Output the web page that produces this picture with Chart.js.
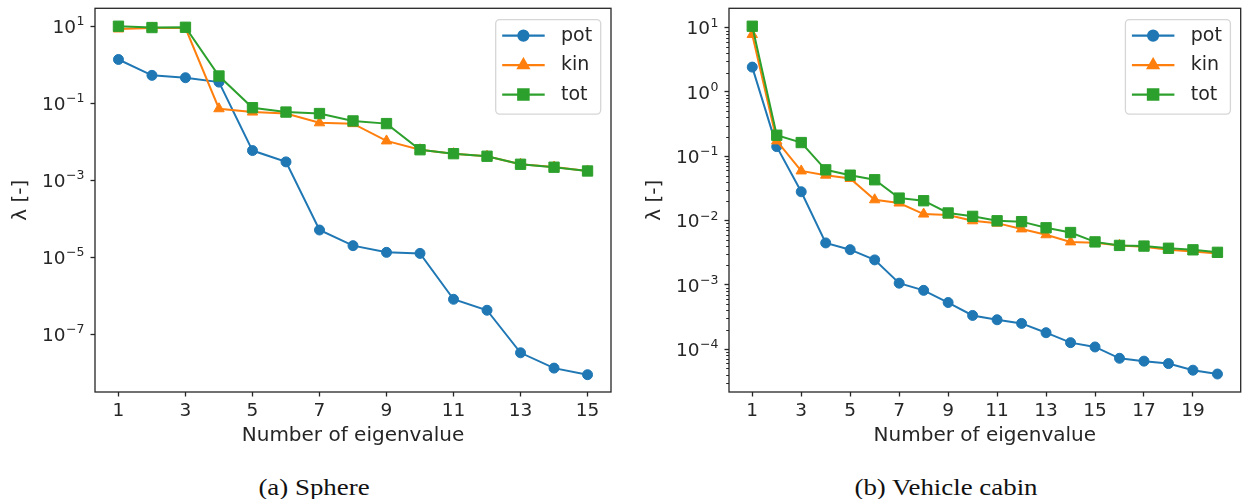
<!DOCTYPE html>
<html>
<head>
<meta charset="utf-8">
<script src="https://cdn.jsdelivr.net/npm/chart.js@4.4.1/dist/chart.umd.min.js"></script>
<style>
html,body{margin:0;padding:0;background:#fff;width:1249px;height:499px;overflow:hidden;}
canvas{position:absolute;top:0;}
#cA{left:0;}
#cB{left:634px;}
.cap{position:absolute;top:473px;font-family:"Liberation Serif",serif;font-size:24px;line-height:28px;color:#111;white-space:nowrap;transform:translateX(-50%) scaleX(1.12);}
</style>
</head>
<body>
<canvas id="cA" width="634" height="460"></canvas>
<canvas id="cB" width="615" height="460"></canvas>
<div class="cap" style="left:314px">(a) Sphere</div>
<div class="cap" style="left:946px">(b) Vehicle cabin</div>
<script>
// ---------- data ----------
const seriesNames = ['pot', 'kin', 'tot'];

const sphereEig = [1, 2, 3, 4, 5, 6, 7, 8, 9, 10, 11, 12, 13, 14, 15];
const spherePot = [1.37, 0.53, 0.46, 0.354, 0.0059, 0.0030, 5.1e-5, 2.0e-5, 1.34e-5, 1.26e-5, 8.1e-7, 4.2e-7, 3.3e-8, 1.32e-8, 8.9e-9];
const sphereKin = [8.5, 9.0, 9.0, 0.072, 0.059, 0.054, 0.031, 0.0295, 0.0105, 0.0062, 0.0049, 0.0042, 0.0026, 0.0022, 0.00174];
const sphereTot = [10.0, 9.25, 9.4, 0.51, 0.0766, 0.059, 0.054, 0.0347, 0.0296, 0.0062, 0.0049, 0.0042, 0.0026, 0.00218, 0.00174];

const cabinEig = [1, 2, 3, 4, 5, 6, 7, 8, 9, 10, 11, 12, 13, 14, 15, 16, 17, 18, 19, 20];
const cabinPot = [2.43, 0.141, 0.028, 0.00448, 0.00352, 0.00244, 0.00106, 0.00082, 0.00053, 0.000334, 0.000286, 0.000251, 0.00018, 0.000126, 0.000108, 7.2e-5, 6.5e-5, 5.95e-5, 4.7e-5, 4.1e-5];
const cabinKin = [7.8, 0.173, 0.059, 0.0507, 0.045, 0.021, 0.0187, 0.0126, 0.0122, 0.0099, 0.0091, 0.0074, 0.0060, 0.00465, 0.0045, 0.0041, 0.0039, 0.0035, 0.0033, 0.00306];
const cabinTot = [10.5, 0.212, 0.163, 0.0614, 0.0507, 0.043, 0.0223, 0.0203, 0.0131, 0.0116, 0.0099, 0.0096, 0.0077, 0.0065, 0.00465, 0.0041, 0.0040, 0.0037, 0.0035, 0.0032];

const sphereXTicks = [1, 3, 5, 7, 9, 11, 13, 15];
const sphereYExps = [1, -1, -3, -5, -7];
const cabinXTicks = [1, 3, 5, 7, 9, 11, 13, 15, 17, 19];
const cabinYExps = [1, 0, -1, -2, -3, -4];

const xTitle = 'Number of eigenvalue';
const yTitle = 'λ [-]';

// ---------- style ----------
const INK = '#262626';
const COLORS = ['#1f77b4', '#ff7f0e', '#2ca02c'];
const STYLES = ['circle', 'triangle', 'rect'];
const RADII = [5, 6, 7.3];

Chart.defaults.font.family = '"DejaVu Sans", sans-serif';
Chart.defaults.color = INK;

const decor = {
  id: 'decor',
  afterDraw(chart, args, o) {
    const ctx = chart.ctx, a = chart.chartArea, ys = chart.scales.y;
    ctx.save();
    // minor ticks
    if (o.minor) {
      ctx.strokeStyle = INK; ctx.lineWidth = 1;
      const d0 = Math.floor(Math.log10(ys.min)), d1 = Math.ceil(Math.log10(ys.max));
      for (let d = d0; d <= d1; d++) {
        for (let k = 2; k <= 9; k++) {
          const v = k * Math.pow(10, d);
          if (v < ys.min || v > ys.max) continue;
          const py = Math.round(ys.getPixelForValue(v)) + 0.5;
          ctx.beginPath(); ctx.moveTo(a.left - 2.8, py); ctx.lineTo(a.left, py); ctx.stroke();
        }
      }
    }
    // frame
    ctx.strokeStyle = INK; ctx.lineWidth = 1.3;
    ctx.strokeRect(a.left, a.top, a.right - a.left, a.bottom - a.top);
    // y tick labels with superscripts
    ctx.fillStyle = INK; ctx.textAlign = 'left'; ctx.textBaseline = 'alphabetic';
    for (const e of o.exps) {
      const py = ys.getPixelForValue(Math.pow(10, e));
      const et = String(e).replace('-', '\u2212');
      ctx.font = '12.5px "DejaVu Sans"';
      const ew = ctx.measureText(et).width;
      const xr = a.left - 10.5;
      ctx.fillText(et, xr - ew, py - 1);
      ctx.font = '18.5px "DejaVu Sans"';
      const bw = ctx.measureText('10').width;
      ctx.fillText('10', xr - ew - 0.5 - bw, py + 0.729 * 18.5 / 2);
    }
    // legend
    const bw = 105, bh = 94.5;
    const bx = a.right - 10.3 - bw, by = a.top + 11.3;
    ctx.beginPath();
    ctx.roundRect(bx, by, bw, bh, 4);
    ctx.fillStyle = 'rgba(255,255,255,0.85)'; ctx.fill();
    ctx.strokeStyle = '#d6d6d6'; ctx.lineWidth = 1.3; ctx.stroke();
    const rows = [16, 45.5, 75];
    chart.data.datasets.forEach((ds, i) => {
      const yy = by + rows[i];
      ctx.strokeStyle = ds.borderColor; ctx.lineWidth = 2.2;
      ctx.beginPath(); ctx.moveTo(bx + 6.5, yy); ctx.lineTo(bx + 49, yy); ctx.stroke();
      ctx.fillStyle = ds.borderColor; ctx.strokeStyle = ds.borderColor;
      Chart.helpers.drawPoint(ctx, {pointStyle: ds.pointStyle, radius: ds.pointRadius, rotation: 0, borderWidth: 1}, bx + 27.7, yy);
      ctx.fillStyle = INK; ctx.font = '19px "DejaVu Sans"'; ctx.textBaseline = 'middle'; ctx.textAlign = 'left';
      ctx.fillText(ds.label, bx + 65.3, yy);
    });
    ctx.restore();
  }
};

function makeChart(id, xs, vals, xTicks, yExps, xMin, xMax, yMinExp, yMaxExp, minor, rightPad) {
  const datasets = vals.map((arr, i) => ({
    label: seriesNames[i],
    data: xs.map((x, j) => ({x: x, y: arr[j]})),
    borderColor: COLORS[i],
    backgroundColor: COLORS[i],
    pointBackgroundColor: COLORS[i],
    pointBorderColor: COLORS[i],
    pointStyle: STYLES[i],
    pointRadius: RADII[i],
    pointBorderWidth: 1,
    borderWidth: 2,
    tension: 0,
    clip: false,
    order: 3 - i
  }));
  const gridOpts = {display: true, drawOnChartArea: false, drawTicks: true, tickLength: 4.5, tickWidth: 1.3, tickColor: INK};
  return new Chart(document.getElementById(id), {
    type: 'line',
    data: {datasets},
    plugins: [decor],
    options: {
      responsive: false,
      animation: false,
      events: [],
      layout: {padding: {left: 0, top: 7, right: rightPad, bottom: 0}},
      plugins: {legend: {display: false}, tooltip: {enabled: false}, decor: {exps: yExps, minor: minor}},
      scales: {
        x: {
          type: 'linear', min: xMin, max: xMax,
          afterBuildTicks: s => { s.ticks = xTicks.map(v => ({value: v})); },
          afterFit: s => { s.height = 68; },
          ticks: {font: {size: 18.5}, color: INK, padding: 3.5, autoSkip: false, maxRotation: 0, callback: v => String(v)},
          grid: gridOpts,
          border: {display: false},
          title: {display: true, text: xTitle, font: {size: 20}, color: INK, padding: {top: 0, bottom: 12}}
        },
        y: {
          type: 'logarithmic', min: Math.pow(10, yMinExp), max: Math.pow(10, yMaxExp),
          afterBuildTicks: s => { s.ticks = yExps.map(e => ({value: Math.pow(10, e)})); },
          afterFit: s => { s.width = 95; },
          ticks: {display: false},
          grid: gridOpts,
          border: {display: false},
          title: {display: true, text: yTitle, font: {size: 20}, color: INK, padding: {top: 8.5, bottom: 0}}
        }
      }
    }
  });
}

makeChart('cA', sphereEig, [spherePot, sphereKin, sphereTot], sphereXTicks, sphereYExps, 0.3, 15.7, -8.5, 1.466, false, 23);
makeChart('cB', cabinEig, [cabinPot, cabinKin, cabinTot], cabinXTicks, cabinYExps, 0.05, 20.95, -4.667, 1.30, true, 4);
</script>
</body>
</html>
